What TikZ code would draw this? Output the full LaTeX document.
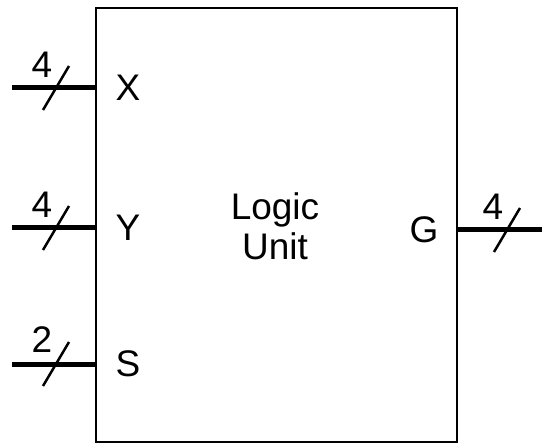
\documentclass[tikz,border=0pt]{standalone}
\usepackage{fontspec}
\setmainfont{Liberation Sans}
\usetikzlibrary{positioning}

\begin{document}
\begin{tikzpicture}[x=1pt,y=-1pt,font=\fontsize{37}{40}\selectfont,
  unit/.style={draw,line width=2pt,minimum width=361pt,minimum height=434pt,inner sep=0pt},
  bus/.style={line width=5pt},
  tick/.style={line width=2.5pt},
  pinlbl/.style={inner sep=0pt,anchor=center}]
\useasboundingbox (0,0) rectangle (542,444);
\node[unit] (lu) at (276.5,224.75) {};
\node[align=center,inner sep=0pt] (name) at (275,226) {Logic\\Unit};
% pins
\node[pinlbl] (px) at (128,88) {X};
\node[pinlbl] (py) at (128,228) {Y};
\node[pinlbl] (ps) at (128,364) {S};
\node[pinlbl] (pg) at (424,230) {G};
% bus ends
\coordinate (xin) at (12,88);
\coordinate (yin) at (12,228);
\coordinate (sin) at (12,364);
\coordinate (gout) at (542,230);
\draw[bus] (xin) -- (lu.west |- xin);
\draw[bus] (yin) -- (lu.west |- yin);
\draw[bus] (sin) -- (lu.west |- sin);
\draw[bus] (lu.east |- gout) -- (gout);
% width marks
\coordinate (xt) at (56,88);
\coordinate (yt) at (56,228);
\coordinate (st) at (56,364);
\coordinate (gt) at (507,230);
\draw[tick] (xt) ++(-13,22) -- ++(26,-44);
\draw[tick] (yt) ++(-13,22) -- ++(26,-44);
\draw[tick] (st) ++(-13,22) -- ++(26,-44);
\draw[tick] (gt) ++(-13,22) -- ++(26,-44);
\node[pinlbl] (wx) at (42,65) {4};
\node[pinlbl] (wy) at (42,205) {4};
\node[pinlbl] (ws) at (42,340) {2};
\node[pinlbl] (wg) at (493,207) {4};
\end{tikzpicture}
\end{document}
